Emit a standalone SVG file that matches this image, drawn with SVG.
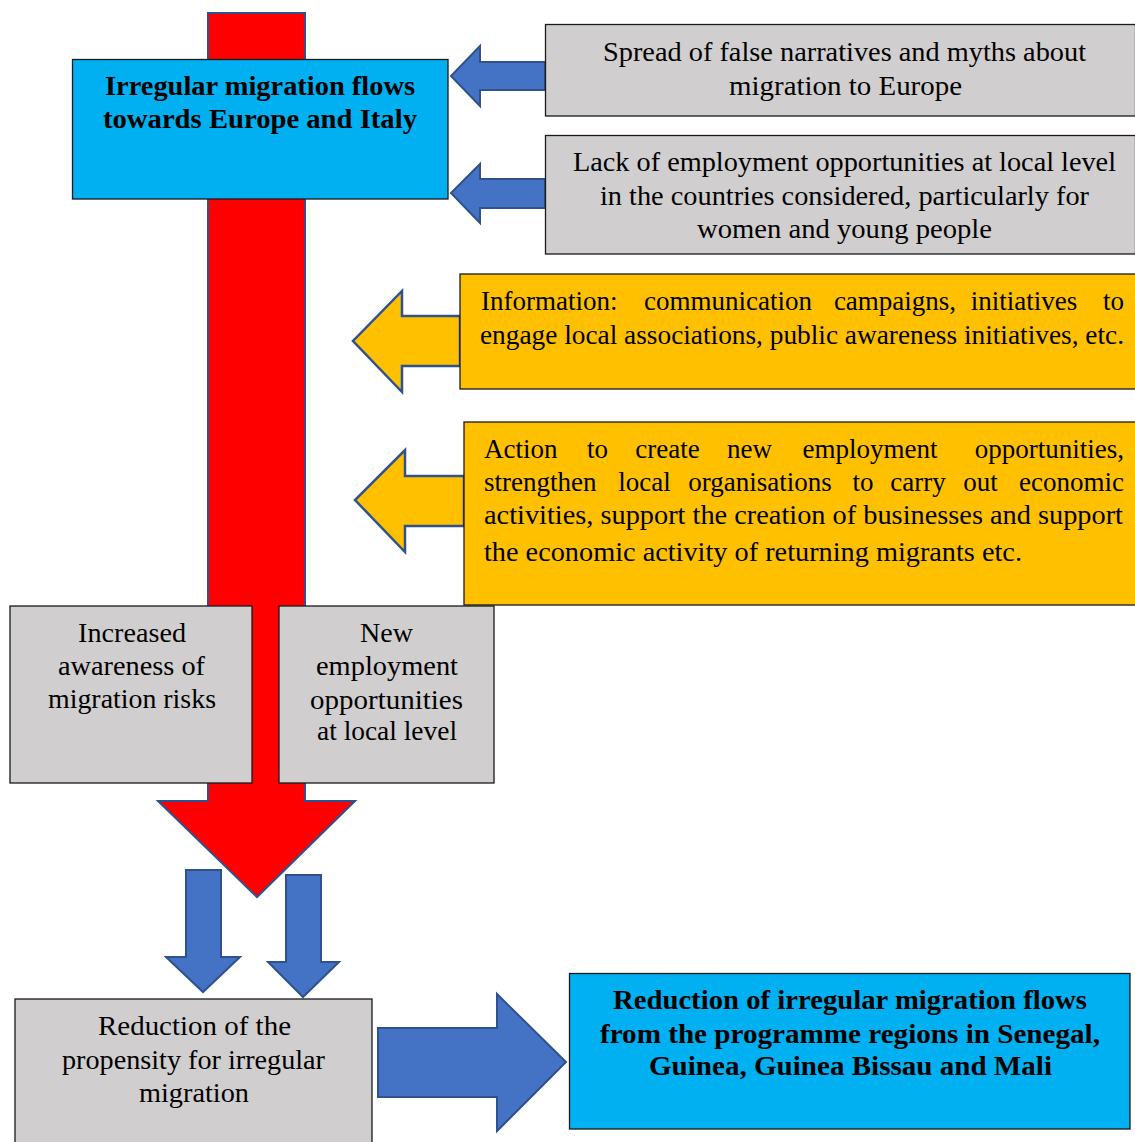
<svg xmlns="http://www.w3.org/2000/svg" width="1135" height="1142" viewBox="0 0 1135 1142">
<style>
text{font-family:"Liberation Serif","Times New Roman",serif;font-size:27px;fill:#000}
.b{font-weight:bold}
.c{text-anchor:middle}
.e{text-anchor:end}
.gray{fill:#D0CECE;stroke:#1a1a1a;stroke-width:1.3}
.cyan{fill:#00B0F0;stroke:#1a1a1a;stroke-width:1.3}
.yel{fill:#FFC000;stroke:#1a1a1a;stroke-width:1.3}
.barr{fill:#4472C4;stroke:#2F528F;stroke-width:2}
.yarr{fill:#FFC000;stroke:#2F528F;stroke-width:2.5}
.rarr{fill:#FF0000;stroke:#2F528F;stroke-width:2}
</style>
<g id="connectors">
<polygon id="red-arrow" class="rarr" points="208,13 305,13 305,801 355,801 257,897 158,801 208,801"/>
<polygon class="barr" points="545,62 480,62 480,46 451,76 480,106 480,90 545,90"/>
<polygon class="barr" points="545,179 480,179 480,164 451,193 480,223 480,208 545,208"/>
<polygon class="yarr" points="460,316 402,316 402,291 353,341 402,392 402,366 460,366"/>
<polygon class="yarr" points="464,476 405,476 405,450 355,500 405,552 405,526 464,526"/>
<polygon class="barr" points="186,870 221,870 221,957 240,957 203,992 166,957 186,957"/>
<polygon class="barr" points="286,875 321,875 321,962 339,962 303,997 268,962 286,962"/>
<polygon class="barr" points="378,1028 497,1028 497,994 566,1062 497,1131 497,1097 378,1097"/>
</g>
<g id="node-flows">
<rect class="cyan" x="72.5" y="59.5" width="375.5" height="139.5"/>
<text class="b c" x="260" y="95" textLength="310" lengthAdjust="spacingAndGlyphs">Irregular migration flows</text>
<text class="b c" x="260" y="128" textLength="314" lengthAdjust="spacingAndGlyphs">towards Europe and Italy</text>
</g>
<g id="node-narratives">
<rect class="gray" x="545.5" y="24.5" width="590" height="91.5"/>
<text class="c" x="844.5" y="61" textLength="483" lengthAdjust="spacingAndGlyphs">Spread of false narratives and myths about</text>
<text class="c" x="845.5" y="95" textLength="233" lengthAdjust="spacingAndGlyphs">migration to Europe</text>
</g>
<g id="node-employment-lack">
<rect class="gray" x="545.5" y="135.5" width="590" height="118.5"/>
<text class="c" x="844.5" y="171" textLength="543" lengthAdjust="spacingAndGlyphs">Lack of employment opportunities at local level</text>
<text class="c" x="844.5" y="205" textLength="489" lengthAdjust="spacingAndGlyphs">in the countries considered, particularly for</text>
<text class="c" x="844.5" y="238" textLength="295" lengthAdjust="spacingAndGlyphs">women and young people</text>
</g>
<g id="node-information">
<rect class="yel" x="460" y="274" width="676" height="115"/>
<text x="481" y="310">Information:</text>
<text class="c" x="728" y="310">communication</text>
<text class="c" x="895" y="310">campaigns,</text>
<text class="c" x="1024" y="310">initiatives</text>
<text class="e" x="1124" y="310">to</text>
<text x="480" y="344" textLength="644" lengthAdjust="spacingAndGlyphs">engage local associations, public awareness initiatives, etc.</text>
</g>
<g id="node-action">
<rect class="yel" x="464" y="422" width="672" height="183"/>
<text x="484" y="458">Action</text>
<text class="c" x="597.5" y="458">to</text>
<text class="c" x="667.5" y="458">create</text>
<text class="c" x="749.5" y="458">new</text>
<text class="c" x="870" y="458">employment</text>
<text class="e" x="1124" y="458">opportunities,</text>
<text x="484" y="491">strengthen</text>
<text class="c" x="644.5" y="491">local</text>
<text class="c" x="760" y="491">organisations</text>
<text class="c" x="863" y="491">to</text>
<text class="c" x="918" y="491">carry</text>
<text class="c" x="980.5" y="491">out</text>
<text class="e" x="1124" y="491">economic</text>
<text x="484" y="524" textLength="639" lengthAdjust="spacingAndGlyphs">activities, support the creation of businesses and support</text>
<text x="484" y="561" textLength="538" lengthAdjust="spacingAndGlyphs">the economic activity of returning migrants etc.</text>
</g>
<g id="node-awareness">
<rect class="gray" x="10" y="606" width="242" height="177"/>
<text class="c" x="132" y="642" textLength="108" lengthAdjust="spacingAndGlyphs">Increased</text>
<text class="c" x="131.5" y="675" textLength="147" lengthAdjust="spacingAndGlyphs">awareness of</text>
<text class="c" x="132" y="708" textLength="168" lengthAdjust="spacingAndGlyphs">migration risks</text>
</g>
<g id="node-new-employment">
<rect class="gray" x="279" y="606" width="215" height="177"/>
<text class="c" x="386.5" y="642" textLength="53" lengthAdjust="spacingAndGlyphs">New</text>
<text class="c" x="387" y="675" textLength="142" lengthAdjust="spacingAndGlyphs">employment</text>
<text class="c" x="386.5" y="709" textLength="153" lengthAdjust="spacingAndGlyphs">opportunities</text>
<text class="c" x="387" y="740" textLength="140" lengthAdjust="spacingAndGlyphs">at local level</text>
</g>
<g id="node-propensity">
<rect class="gray" x="15" y="999" width="357" height="150"/>
<text class="c" x="194.5" y="1035" textLength="193" lengthAdjust="spacingAndGlyphs">Reduction of the</text>
<text class="c" x="193.5" y="1069" textLength="263" lengthAdjust="spacingAndGlyphs">propensity for irregular</text>
<text class="c" x="194" y="1102" textLength="110" lengthAdjust="spacingAndGlyphs">migration</text>
</g>
<g id="node-reduction">
<rect class="cyan" x="569.5" y="973.5" width="560.5" height="155.5"/>
<text class="b c" x="850" y="1009" textLength="474" lengthAdjust="spacingAndGlyphs">Reduction of irregular migration flows</text>
<text class="b c" x="850" y="1043" textLength="500" lengthAdjust="spacingAndGlyphs">from the programme regions in Senegal,</text>
<text class="b c" x="850.5" y="1075" textLength="403" lengthAdjust="spacingAndGlyphs">Guinea, Guinea Bissau and Mali</text>
</g>
</svg>
